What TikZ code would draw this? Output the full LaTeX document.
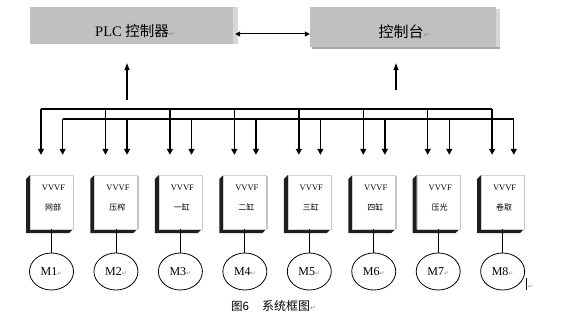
\documentclass[tikz,border=0pt]{standalone}
\usepackage{fontspec}
\setmainfont{Liberation Serif}
\newfontfamily\cjk{Noto Sans CJK SC}
\newfontfamily\symf{DejaVu Sans}
\usetikzlibrary{arrows.meta,shapes.geometric}
\definecolor{boxgray}{HTML}{C0C0C0}
\definecolor{shadegray}{HTML}{D6D6D6}
\definecolor{botshade}{HTML}{A8A8A8}
\definecolor{darkedge}{HTML}{1E1E1E}
\definecolor{markgray}{HTML}{8C8C8C}
\newcommand{\pmark}[1][6]{{\symf\fontsize{#1}{#1}\selectfont\textcolor{markgray}{↵}}}
\begin{document}
\begin{tikzpicture}[x=1pt,y=-1pt,
  topbox/.style={fill=boxgray,draw=none,inner sep=0pt},
  face/.style={fill=white,draw=gray!35,line width=0.4pt,minimum width=43pt,minimum height=54pt,inner sep=0pt},
  motor/.style={ellipse,draw,line width=0.8pt,minimum width=44pt,minimum height=37pt,inner sep=0pt,font=\fontsize{12}{12}\selectfont},
  bus/.style={line width=1.4pt},
  busarrow/.style={line width=1.4pt,-{Triangle[length=6pt,width=6pt]}},
  uparrow/.style={line width=1.2pt,-{Triangle[length=7pt,width=5pt]}},
  biarrow/.style={line width=1pt,{Triangle[length=5pt,width=5pt]}-{Triangle[length=5pt,width=5pt]}},
  thinline/.style={line width=0.8pt},
  smalltxt/.style={inner sep=0pt,font=\fontsize{8.5}{8.5}\selectfont},
  cjktxt/.style={inner sep=0pt,font=\cjk\fontsize{8}{8}\selectfont}
]
\useasboundingbox (0,0) rectangle (583,321);

% top boxes
\node[topbox,minimum width=203pt,minimum height=37pt] (plc) at (131.5,25.5) {};
\fill[shadegray] (plc.north east) rectangle ([xshift=5pt]plc.south east);
\node[topbox,minimum width=186pt,minimum height=40pt] (ctl) at (403,27) {};
\fill[shadegray] ([yshift=-2pt]ctl.north east) rectangle ([xshift=4pt,yshift=-2pt]ctl.south east);
\fill[botshade] ([xshift=2pt]ctl.south west) rectangle ([xshift=4pt,yshift=-2pt]ctl.south east);

\node[inner sep=0pt,font=\fontsize{14.5}{14.5}\selectfont] (plctxt) at (135,31) {PLC {\cjk 控制器}\pmark[7]};
\node[inner sep=0pt,font=\cjk\fontsize{15}{15}\selectfont] (ctltxt) at (404,31.5) {控制台\pmark[7]};

% double arrow between top boxes
\coordinate (ay) at (0,34);
\draw[biarrow] ([xshift=2pt]plc.east |- ay) -- (ctl.west |- ay);

% up arrows
\coordinate (pa) at (127,100);
\coordinate (ca) at (396,90);
\draw[uparrow,shorten >=19pt] (pa) -- (pa |- plc.south);
\draw[uparrow,shorten >=16pt] (ca) -- (ca |- ctl.south);

% buses
\coordinate (b1s) at (41,109);
\coordinate (b1e) at (492.15,109);
\coordinate (b2s) at (62.5,119);
\coordinate (b2e) at (513.65,119);
\draw[bus] (b1s) -- (b1e);
\draw[bus] (b2s) -- (b2e);

% VVVF boxes and motors
\foreach \i/\lab in {0/网部,1/压榨,2/一缸,3/二缸,4/三缸,5/四缸,6/压光,7/卷取}{
  \pgfmathsetmacro\L{26+64.45*\i}
  \pgfmathtruncatemacro\n{\i+1}
  \fill[darkedge] (\L+4,175) -- (\L,179) -- (\L,233) -- (\L+43,233) -- (\L+47,229) -- (\L+4,229) -- cycle;
  \node[face] (v\i) at (\L+25.5,202) {};
  \draw[gray!45,line width=1.3pt] (\L+47.6,175.5) -- (\L+47.6,229);
  \node[smalltxt] (vt\i) at (\L+27.5,188) {VVVF};
  \node[cjktxt] (vl\i) at (\L+27,207) {\lab};
  \node[motor] (m\i) at (\L+25.5,271.5) {M\n\pmark};
  \draw[thinline] (v\i.south) -- (m\i.north);
  \coordinate (ta\i) at (\L+15,109);
  \coordinate (tb\i) at (\L+36.6,119);
  \draw[busarrow,shorten >=20pt] (ta\i) -- (ta\i |- v\i.north);
  \draw[busarrow,shorten >=20pt] (tb\i) -- (tb\i |- v\i.north);
}

% caption
\node[anchor=west,inner sep=0pt,font=\cjk\fontsize{11.5}{11.5}\selectfont] (cap1) at (231,306) {图6};
\node[anchor=west,inner sep=0pt,font=\cjk\fontsize{12}{12}\selectfont] (cap2) at (262,306) {系统框图\pmark[7]};

% cursor mark
\coordinate (cur1) at (526,278);
\coordinate (cur2) at (526,290);
\draw[line width=0.6pt] (cur1) -- (cur2);
\node[inner sep=0pt] (curmark) at (530.5,287) {\pmark};
\end{tikzpicture}
\end{document}
